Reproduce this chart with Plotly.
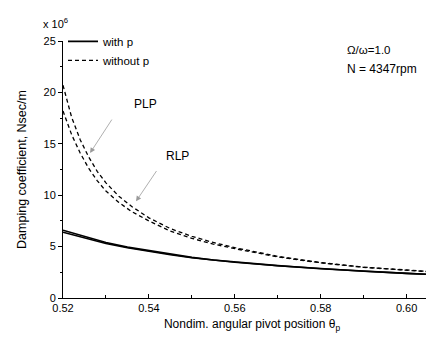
import plotly.graph_objects as go

# ---- data ----
x_plp = [0.520, 0.522, 0.524, 0.526, 0.528, 0.530, 0.533, 0.536, 0.540, 0.545,
         0.550, 0.555, 0.560, 0.565, 0.570, 0.575, 0.580, 0.590, 0.600, 0.608]
plp_without_p = [20.7, 17.6, 15.4, 13.7, 12.3, 11.2, 9.9, 8.9, 7.8, 6.75,
                 6.0, 5.4, 4.9, 4.45, 4.05, 3.75, 3.45, 3.0, 2.7, 2.5]
rlp_without_p = [18.2, 15.9, 14.1, 12.6, 11.4, 10.4, 9.3, 8.4, 7.5, 6.5,
                 5.8, 5.25, 4.8, 4.4, 4.0, 3.7, 3.42, 2.98, 2.68, 2.48]

x_with = [0.520, 0.525, 0.530, 0.535, 0.540, 0.545, 0.550, 0.555, 0.560,
          0.570, 0.580, 0.590, 0.600, 0.608]
plp_with_p = [6.6, 6.0, 5.4, 4.95, 4.6, 4.25, 3.95, 3.7, 3.5, 3.15, 2.85, 2.6, 2.4, 2.25]
rlp_with_p = [6.4, 5.85, 5.3, 4.88, 4.53, 4.2, 3.92, 3.68, 3.48, 3.14, 2.84, 2.6, 2.4, 2.25]

x_ticks = [0.52, 0.54, 0.56, 0.58, 0.60]
x_tick_text = ["0.52", "0.54", "0.56", "0.58", "0.60"]
y_ticks = [0, 5, 10, 15, 20, 25]

FONT = "Arial, Liberation Sans, sans-serif"
DASH = "4px,3px"

fig = go.Figure()
fig.add_trace(go.Scatter(x=x_with, y=plp_with_p, mode="lines", name="with p",
                         line=dict(color="black", width=1.6)))
fig.add_trace(go.Scatter(x=x_with, y=rlp_with_p, mode="lines", name="with p",
                         showlegend=False, line=dict(color="black", width=1.6)))
fig.add_trace(go.Scatter(x=x_plp, y=plp_without_p, mode="lines", name="without p",
                         line=dict(color="black", width=1.3, dash=DASH)))
fig.add_trace(go.Scatter(x=x_plp, y=rlp_without_p, mode="lines", name="without p",
                         showlegend=False, line=dict(color="black", width=1.3, dash=DASH)))

fig.add_annotation(x=0.5391, y=18.9, text="PLP", showarrow=False,
                   font=dict(size=12, color="black", family=FONT))
fig.add_annotation(x=0.5467, y=13.8, text="RLP", showarrow=False,
                   font=dict(size=12, color="black", family=FONT))
fig.add_annotation(x=0.5263, y=14.1, ax=0.5316, ay=17.5, axref="x", ayref="y",
                   text="", showarrow=True, arrowhead=2, arrowsize=1.3, arrowwidth=0.8,
                   arrowcolor="#9a9a9a")
fig.add_annotation(x=0.5370, y=9.4, ax=0.5420, ay=12.5, axref="x", ayref="y",
                   text="", showarrow=True, arrowhead=2, arrowsize=1.3, arrowwidth=0.8,
                   arrowcolor="#9a9a9a")

fig.add_annotation(xref="paper", yref="paper", x=0.746, y=0.965, xanchor="left",
                   yanchor="middle", text="Ω/ω=1.0", showarrow=False,
                   font=dict(size=11.5, color="black", family=FONT))
fig.add_annotation(xref="paper", yref="paper", x=0.746, y=0.89, xanchor="left",
                   yanchor="middle", text="N = 4347rpm", showarrow=False,
                   font=dict(size=12, color="black", family=FONT))
fig.add_annotation(xref="paper", yref="paper", x=-0.058, y=1.07, xanchor="left",
                   yanchor="middle", text="x 10<sup>6</sup>", showarrow=False,
                   font=dict(size=11, color="black", family=FONT))

fig.update_layout(
    width=434, height=339,
    margin=dict(l=55, r=1, t=33, b=49),
    paper_bgcolor="white", plot_bgcolor="white",
    font=dict(family=FONT, color="black", size=11),
    legend=dict(x=0.0, y=1.055, xanchor="left", yanchor="top",
                bgcolor="rgba(0,0,0,0)", font=dict(size=11.5, family=FONT),
                itemwidth=30, tracegroupgap=0),
    showlegend=True,
)
fig.update_xaxes(range=[0.52, 0.608], tickvals=x_ticks, ticktext=x_tick_text,
                 ticks="inside", ticklen=4, tickcolor="black",
                 minor=dict(dtick=0.01, ticks="inside", ticklen=3, tickcolor="black"),
                 showline=True, linecolor="black", linewidth=1, showgrid=False,
                 zeroline=False, tickfont=dict(size=11),
                 title=dict(text="Nondim. angular pivot position θ<sub>p</sub>",
                            font=dict(size=12), standoff=6))
fig.update_yaxes(range=[0, 25], tickvals=y_ticks, ticks="outside", ticklen=4,
                 tickcolor="black",
                 minor=dict(dtick=2.5, ticks="outside", ticklen=2, tickcolor="black"),
                 showline=True, linecolor="black", linewidth=1, showgrid=False,
                 zeroline=False, tickfont=dict(size=11),
                 title=dict(text="Damping coefficient, Nsec/m", font=dict(size=12.5),
                            standoff=14))

fig.write_html("out.html")
